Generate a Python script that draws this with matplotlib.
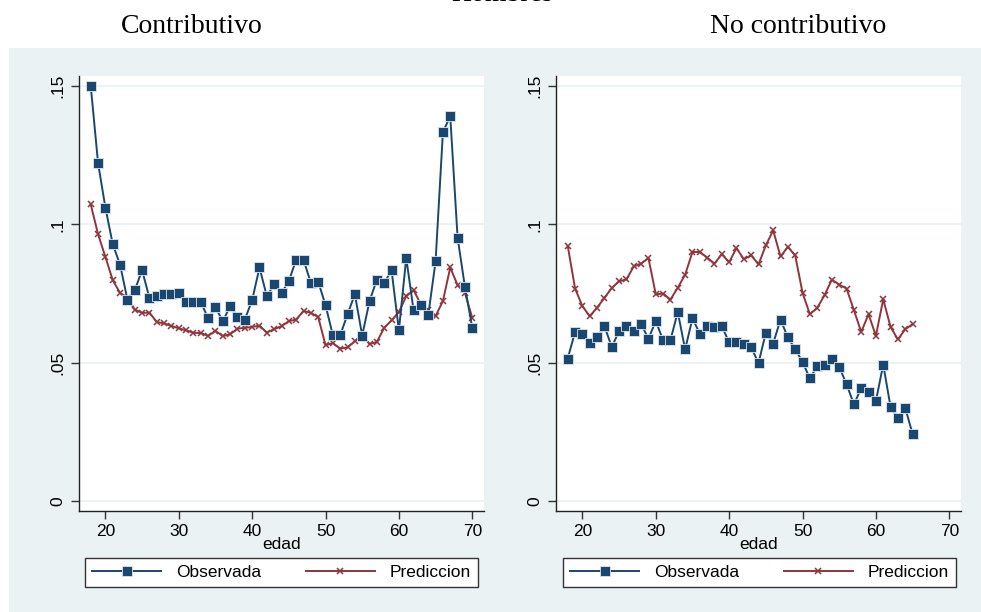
import numpy as np
import matplotlib.pyplot as plt
from matplotlib.patches import Rectangle

# Edades de cada grupo
edad_contrib = list(range(18, 71))
edad_nocontrib = list(range(18, 66))

# Contributivo: tasa observada y prediccion
obs_contrib = [0.150, 0.1221, 0.106, 0.0928, 0.0854, 0.0728, 0.0762, 0.0834, 0.0734, 0.074,
               0.075, 0.075, 0.0753, 0.072, 0.072, 0.072, 0.066, 0.070, 0.065, 0.0704,
               0.0666, 0.0656, 0.0726, 0.0844, 0.074, 0.0783, 0.0752, 0.0795, 0.0872, 0.0872,
               0.0788, 0.0793, 0.0708, 0.0599, 0.0599, 0.0675, 0.0747, 0.0598, 0.0723, 0.080,
               0.0788, 0.0834, 0.0617, 0.0878, 0.069, 0.071, 0.0671, 0.0866, 0.1333, 0.1391,
               0.0952, 0.0774, 0.0627]
pred_contrib = [0.1072, 0.0964, 0.0882, 0.0798, 0.0752, 0.0735, 0.0692, 0.068, 0.0681, 0.0647,
                0.0642, 0.0633, 0.0624, 0.0617, 0.0608, 0.0607, 0.0597, 0.0615, 0.0596, 0.0603,
                0.0623, 0.0626, 0.0629, 0.0634, 0.0609, 0.0621, 0.0632, 0.065, 0.0656, 0.0687,
                0.068, 0.0665, 0.0563, 0.0571, 0.0551, 0.0555, 0.0578, 0.0599, 0.0567, 0.0575,
                0.0626, 0.0653, 0.0683, 0.074, 0.0762, 0.0711, 0.0692, 0.0668, 0.0723, 0.0844,
                0.078, 0.0752, 0.0662]

# No contributivo
obs_nocontrib = [0.0515, 0.0611, 0.0603, 0.0572, 0.0593, 0.0632, 0.0557, 0.0614, 0.0632, 0.0615,
                 0.0639, 0.0587, 0.065, 0.0581, 0.0582, 0.0683, 0.0548, 0.066, 0.0605, 0.0633,
                 0.0629, 0.0632, 0.0573, 0.0575, 0.0569, 0.0555, 0.0499, 0.0608, 0.0569, 0.0656,
                 0.0591, 0.0549, 0.0503, 0.0443, 0.0487, 0.0491, 0.0513, 0.0485, 0.0422, 0.035,
                 0.0407, 0.0395, 0.0361, 0.0493, 0.034, 0.0299, 0.0337, 0.0242]
pred_nocontrib = [0.0922, 0.0768, 0.0704, 0.0668, 0.0699, 0.0734, 0.077, 0.0794, 0.0801, 0.0848,
                  0.0858, 0.0878, 0.0747, 0.075, 0.0728, 0.0771, 0.0818, 0.090, 0.090, 0.088,
                  0.0858, 0.0892, 0.0863, 0.0914, 0.0874, 0.0888, 0.0855, 0.0924, 0.0978, 0.0884,
                  0.0918, 0.0888, 0.0753, 0.0675, 0.0698, 0.0744, 0.080, 0.0782, 0.0768, 0.069,
                  0.0611, 0.0675, 0.0597, 0.0729, 0.0629, 0.0584, 0.0621, 0.0639]

yticks = [0, 0.05, 0.1, 0.15]
ytick_labels = ['0', '.05', '.1', '.15']
xticks = [20, 30, 40, 50, 60, 70]

azul = '#1a476f'
rojo = '#90353b'
fondo = '#eaf2f3'
W, H = 981, 612

plt.rcParams['font.family'] = ['Liberation Sans', 'DejaVu Sans']

fig = plt.figure(figsize=(W / 100, H / 100), dpi=100)
fig.patches.append(Rectangle((9 / W, 0), 1 - 9 / W, 1 - 48 / H, transform=fig.transFigure,
                             facecolor=fondo, edgecolor='none', zorder=-1))

# titulo general, recortado en el borde superior
fig.text(502 / W, 1 - 1 / H, 'Hombres', ha='center', va='baseline',
         family='Liberation Serif', fontsize=20)


def panel(left, edad, obs, pred, titulo, tx, leg_left):
    ax = fig.add_axes([left / W, 1 - 511 / H, 405 / W, 435 / H])
    ax.set_facecolor('white')
    ax.plot(edad, obs, color=azul, lw=1.4, marker='s', ms=6.5, mfc=azul,
            mec='#dde6ee', mew=0.6, label='Observada', zorder=3)
    ax.plot(edad, pred, color=rojo, lw=1.4, marker='x', ms=5, mew=1.1,
            label='Prediccion', zorder=2)
    ax.set_xlim(16.4, 71.6)
    ax.set_ylim(-0.0036, 0.1536)
    ax.set_xticks(xticks)
    ax.set_yticks(yticks)
    ax.set_yticklabels(ytick_labels, rotation=90, va='center')
    ax.tick_params(axis='both', direction='out', length=6, width=1, color='#333333',
                   labelsize=12.5, pad=4)
    ax.tick_params(axis='x', pad=3)
    ax.grid(axis='y', color=fondo, lw=1.3)
    ax.set_axisbelow(True)
    for s in ['top', 'right']:
        ax.spines[s].set_visible(False)
    for s in ['left', 'bottom']:
        ax.spines[s].set_color('#222222')
        ax.spines[s].set_linewidth(1)
    ax.set_xlabel('edad', fontsize=12.5, labelpad=-1)
    fig.text(tx / W, 1 - 33 / H, titulo, ha='center', va='baseline',
             family='Liberation Serif', fontsize=20)
    leg = ax.legend(loc='upper left', ncol=2,
                    bbox_to_anchor=(leg_left / W, 1 - 558 / H),
                    bbox_transform=fig.transFigure, borderaxespad=0, fontsize=12.5,
                    handlelength=4.0, handletextpad=0.85, columnspacing=2.55,
                    borderpad=0.4, fancybox=False, framealpha=1, edgecolor='#333333')
    leg.get_frame().set_linewidth(1)
    return ax


panel(79, edad_contrib, obs_contrib, pred_contrib, 'Contributivo', 191.5, 85)
panel(556, edad_nocontrib, obs_nocontrib, pred_nocontrib, 'No contributivo', 798.5, 563)

fig.savefig('out.png', dpi=100)
